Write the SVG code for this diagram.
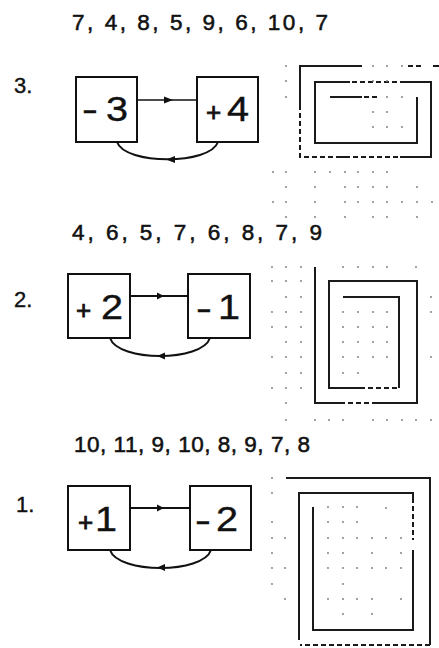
<svg xmlns="http://www.w3.org/2000/svg" width="439" height="648" viewBox="0 0 439 648">
<defs>
<style>
.hd{font-family:"Liberation Sans",Arial,sans-serif;font-size:22.5px;fill:#111;stroke:#111;stroke-width:0.55}
.lb{font-family:"Liberation Sans",Arial,sans-serif;font-size:22px;fill:#111;stroke:#111;stroke-width:0.4}
.box{fill:#fff;stroke:#111;stroke-width:2}
.sg{font-family:"Liberation Sans",Arial,sans-serif;font-size:26px;fill:#111;stroke:#111;stroke-width:0.8}
.mn{font-family:"Liberation Sans",Arial,sans-serif;font-size:34px;fill:#111;stroke:#111;stroke-width:0.5}
.dg{font-family:"Liberation Sans",Arial,sans-serif;font-size:36px;fill:#111;stroke:#111;stroke-width:0.4}
.ln{fill:none;stroke:#111;stroke-width:2}
.ln1{fill:none;stroke:#111;stroke-width:1.3}
.sp{fill:none;stroke:#1a1a1a;stroke-width:2}
.sd{fill:none;stroke:#1a1a1a;stroke-width:2;stroke-dasharray:5 3}
.ah{fill:#111}
.dt{fill:#777}
</style>
</defs>

<!-- headers -->
<text class="hd" x="72" y="30" textLength="256" lengthAdjust="spacing">7, 4, 8, 5, 9, 6, 10, 7</text>
<text class="hd" x="72" y="240" textLength="250" lengthAdjust="spacing">4, 6, 5, 7, 6, 8, 7, 9</text>
<text class="hd" x="74" y="452" textLength="236" lengthAdjust="spacing">10, 11, 9, 10, 8, 9, 7, 8</text>

<text class="lb" x="14" y="93">3.</text>
<text class="lb" x="14" y="307">2.</text>
<text class="lb" x="16" y="512">1.</text>

<!-- section 3 nodes -->
<g id="n3a"><rect class="box" x="76" y="77" width="61" height="65"/><text class="mn" transform="translate(82,121) scale(1.4,1)">-</text><text class="dg" transform="translate(106,121) scale(1.1,1)">3</text></g>
<g id="n3b"><rect class="box" x="197" y="77" width="61" height="65"/><text class="sg" x="206" y="121">+</text><text class="dg" transform="translate(227,121) scale(1.1,1)">4</text></g>
<!-- section 2 nodes -->
<g id="n2a"><rect class="box" x="68" y="274" width="62" height="64"/><text class="sg" x="76" y="319">+</text><text class="dg" transform="translate(101,319) scale(1.1,1)">2</text></g>
<g id="n2b"><rect class="box" x="188" y="274" width="62" height="64"/><text class="mn" transform="translate(196,320) scale(1.4,1)">-</text><text class="dg" transform="translate(218,319) scale(1.1,1)">1</text></g>
<!-- section 1 nodes -->
<g id="n1a"><rect class="box" x="68" y="486" width="62" height="64"/><text class="sg" x="78" y="531">+</text><text class="dg" transform="translate(95,531) scale(1.1,1)">1</text></g>
<g id="n1b"><rect class="box" x="190" y="486" width="61" height="64"/><text class="mn" transform="translate(195,532) scale(1.4,1)">-</text><text class="dg" transform="translate(216,531) scale(1.1,1)">2</text></g>

<!-- connectors -->
<g id="connectors">
<path class="ln1" d="M137,100 H197"/>
<polygon class="ah" points="173,100 164,96.5 164,103.5"/>
<path class="ln" d="M117,142 C125,165 210,165 218,142"/>
<polygon class="ah" points="166,159.5 175,156 175,163"/>

<path class="ln" d="M130,296 H188"/>
<polygon class="ah" points="164,296 157,292.5 157,299.5"/>
<path class="ln" d="M110,338 C118,362 202,362 210,338"/>
<polygon class="ah" points="157,356 165,352.5 165,359.5"/>

<path class="ln" d="M130,508 H190"/>
<polygon class="ah" points="164,508 157,504.5 157,511.5"/>
<path class="ln" d="M110,550 C118,574 203,574 211,550"/>
<polygon class="ah" points="157,567.5 165,564 165,571"/>
</g>

<!-- spiral 3 -->
<g id="spiral3">
<path class="sp" d="M362,66 H300 V105"/>
<path class="sd" d="M300,105 V157 H340"/>
<path class="sp" d="M340,157 H345"/>
<path class="sd" d="M345,157 H400"/>
<path class="sp" d="M400,157 H431 V82 H405"/>
<path class="sd" d="M405,82 H350"/>
<path class="sp" d="M350,82 H315 V143 H417 V97"/>
<path class="sp" d="M330,97 H362"/>
<path class="sd" d="M364,97 H377"/>
<path class="sd" d="M408,66 H424"/>
<path class="sp" d="M433,66 H439"/>
</g>

<!-- spiral 2 -->
<g id="spiral2">
<path class="sp" d="M315,267 V403 H340"/>
<path class="sd" d="M340,403 H375"/>
<path class="sp" d="M375,403 H417 V281 H329 V388 H360"/>
<path class="sd" d="M360,388 H399"/>
<path class="sp" d="M399,388 V297 H343"/>
</g>

<!-- spiral 1 -->
<g id="spiral1">
<path class="sp" d="M286,478 H430 V645"/>
<path class="sd" d="M430,645 H300"/>
<path class="sp" d="M299,640 V493 H413 V498"/>
<path class="sd" d="M413,498 V540"/>
<path class="sp" d="M413,550 V630 H313 V507"/>
</g>

<!-- dot grids -->
<g id="dots" class="dt">
<circle cx="286" cy="66" r="0.9"/><circle cx="373" cy="66" r="0.9"/><circle cx="387" cy="66" r="0.9"/><circle cx="402" cy="66" r="0.9"/>
<circle cx="286" cy="81" r="0.9"/><circle cx="373" cy="81" r="0.9"/><circle cx="387" cy="81" r="0.9"/>
<circle cx="286" cy="97" r="0.9"/><circle cx="387" cy="97" r="0.9"/><circle cx="402" cy="97" r="0.9"/>
<circle cx="373" cy="112" r="0.9"/><circle cx="387" cy="112" r="0.9"/>
<circle cx="373" cy="127" r="0.9"/><circle cx="387" cy="127" r="0.9"/><circle cx="402" cy="127" r="0.9"/>
<circle cx="273" cy="172" r="0.9"/><circle cx="286" cy="172" r="0.9"/><circle cx="315" cy="172" r="0.9"/><circle cx="330" cy="172" r="0.9"/><circle cx="345" cy="172" r="0.9"/><circle cx="358" cy="172" r="0.9"/><circle cx="373" cy="172" r="0.9"/><circle cx="387" cy="172" r="0.9"/>
<circle cx="286" cy="187" r="0.9"/><circle cx="315" cy="187" r="0.9"/><circle cx="345" cy="187" r="0.9"/><circle cx="358" cy="187" r="0.9"/><circle cx="373" cy="187" r="0.9"/><circle cx="387" cy="187" r="0.9"/><circle cx="417" cy="187" r="0.9"/>
<circle cx="273" cy="202" r="0.9"/><circle cx="286" cy="202" r="0.9"/><circle cx="315" cy="202" r="0.9"/><circle cx="345" cy="202" r="0.9"/><circle cx="358" cy="202" r="0.9"/><circle cx="373" cy="202" r="0.9"/><circle cx="387" cy="202" r="0.9"/><circle cx="402" cy="202" r="0.9"/><circle cx="417" cy="202" r="0.9"/><circle cx="432" cy="202" r="0.9"/>
<circle cx="286" cy="217" r="0.9"/><circle cx="315" cy="217" r="0.9"/><circle cx="345" cy="217" r="0.9"/><circle cx="373" cy="217" r="0.9"/><circle cx="387" cy="217" r="0.9"/><circle cx="417" cy="217" r="0.9"/>

<circle cx="272" cy="267" r="0.9"/><circle cx="286" cy="267" r="0.9"/><circle cx="301" cy="267" r="0.9"/><circle cx="343" cy="267" r="0.9"/><circle cx="358" cy="267" r="0.9"/><circle cx="373" cy="267" r="0.9"/><circle cx="387" cy="267" r="0.9"/><circle cx="416" cy="267" r="0.9"/>
<circle cx="272" cy="281" r="0.9"/><circle cx="286" cy="281" r="0.9"/><circle cx="301" cy="281" r="0.9"/>
<circle cx="286" cy="297" r="0.9"/><circle cx="301" cy="297" r="0.9"/><circle cx="431" cy="297" r="0.9"/>
<circle cx="272" cy="312" r="0.9"/><circle cx="286" cy="312" r="0.9"/><circle cx="301" cy="312" r="0.9"/><circle cx="343" cy="312" r="0.9"/><circle cx="358" cy="312" r="0.9"/><circle cx="373" cy="312" r="0.9"/><circle cx="387" cy="312" r="0.9"/><circle cx="431" cy="312" r="0.9"/>
<circle cx="272" cy="327" r="0.9"/><circle cx="286" cy="327" r="0.9"/><circle cx="301" cy="327" r="0.9"/><circle cx="343" cy="327" r="0.9"/><circle cx="358" cy="327" r="0.9"/><circle cx="373" cy="327" r="0.9"/><circle cx="387" cy="327" r="0.9"/>
<circle cx="286" cy="342" r="0.9"/><circle cx="301" cy="342" r="0.9"/><circle cx="343" cy="342" r="0.9"/><circle cx="358" cy="342" r="0.9"/><circle cx="373" cy="342" r="0.9"/><circle cx="387" cy="342" r="0.9"/>
<circle cx="272" cy="357" r="0.9"/><circle cx="286" cy="357" r="0.9"/><circle cx="301" cy="357" r="0.9"/><circle cx="343" cy="357" r="0.9"/><circle cx="358" cy="357" r="0.9"/><circle cx="373" cy="357" r="0.9"/><circle cx="387" cy="357" r="0.9"/><circle cx="431" cy="357" r="0.9"/>
<circle cx="286" cy="373" r="0.9"/><circle cx="301" cy="373" r="0.9"/><circle cx="343" cy="373" r="0.9"/><circle cx="358" cy="373" r="0.9"/>
<circle cx="272" cy="388" r="0.9"/><circle cx="286" cy="388" r="0.9"/><circle cx="301" cy="388" r="0.9"/>
<circle cx="286" cy="403" r="0.9"/>
<circle cx="286" cy="420" r="0.9"/><circle cx="315" cy="420" r="0.9"/><circle cx="329" cy="420" r="0.9"/><circle cx="343" cy="420" r="0.9"/><circle cx="373" cy="420" r="0.9"/><circle cx="387" cy="420" r="0.9"/><circle cx="402" cy="420" r="0.9"/><circle cx="416" cy="420" r="0.9"/><circle cx="431" cy="420" r="0.9"/>

<circle cx="272" cy="478" r="0.9"/>
<circle cx="272" cy="493" r="0.9"/>
<circle cx="328" cy="507" r="0.9"/><circle cx="343" cy="507" r="0.9"/><circle cx="357" cy="507" r="0.9"/><circle cx="386" cy="508" r="0.9"/>
<circle cx="272" cy="522" r="0.9"/><circle cx="328" cy="522" r="0.9"/><circle cx="343" cy="522" r="0.9"/><circle cx="357" cy="522" r="0.9"/>
<circle cx="272" cy="538" r="0.9"/><circle cx="285" cy="538" r="0.9"/><circle cx="328" cy="538" r="0.9"/><circle cx="343" cy="538" r="0.9"/><circle cx="357" cy="538" r="0.9"/><circle cx="372" cy="538" r="0.9"/><circle cx="386" cy="538" r="0.9"/><circle cx="401" cy="538" r="0.9"/>
<circle cx="272" cy="553" r="0.9"/><circle cx="328" cy="553" r="0.9"/><circle cx="343" cy="553" r="0.9"/><circle cx="372" cy="553" r="0.9"/><circle cx="401" cy="553" r="0.9"/>
<circle cx="272" cy="568" r="0.9"/><circle cx="285" cy="568" r="0.9"/><circle cx="328" cy="568" r="0.9"/><circle cx="343" cy="568" r="0.9"/><circle cx="357" cy="568" r="0.9"/><circle cx="372" cy="568" r="0.9"/><circle cx="386" cy="568" r="0.9"/><circle cx="401" cy="568" r="0.9"/>
<circle cx="272" cy="584" r="0.9"/><circle cx="343" cy="584" r="0.9"/>
<circle cx="285" cy="599" r="0.9"/><circle cx="328" cy="599" r="0.9"/><circle cx="343" cy="599" r="0.9"/><circle cx="357" cy="599" r="0.9"/><circle cx="372" cy="599" r="0.9"/><circle cx="401" cy="599" r="0.9"/>
<circle cx="343" cy="614" r="0.9"/><circle cx="372" cy="614" r="0.9"/>
</g>
</svg>
